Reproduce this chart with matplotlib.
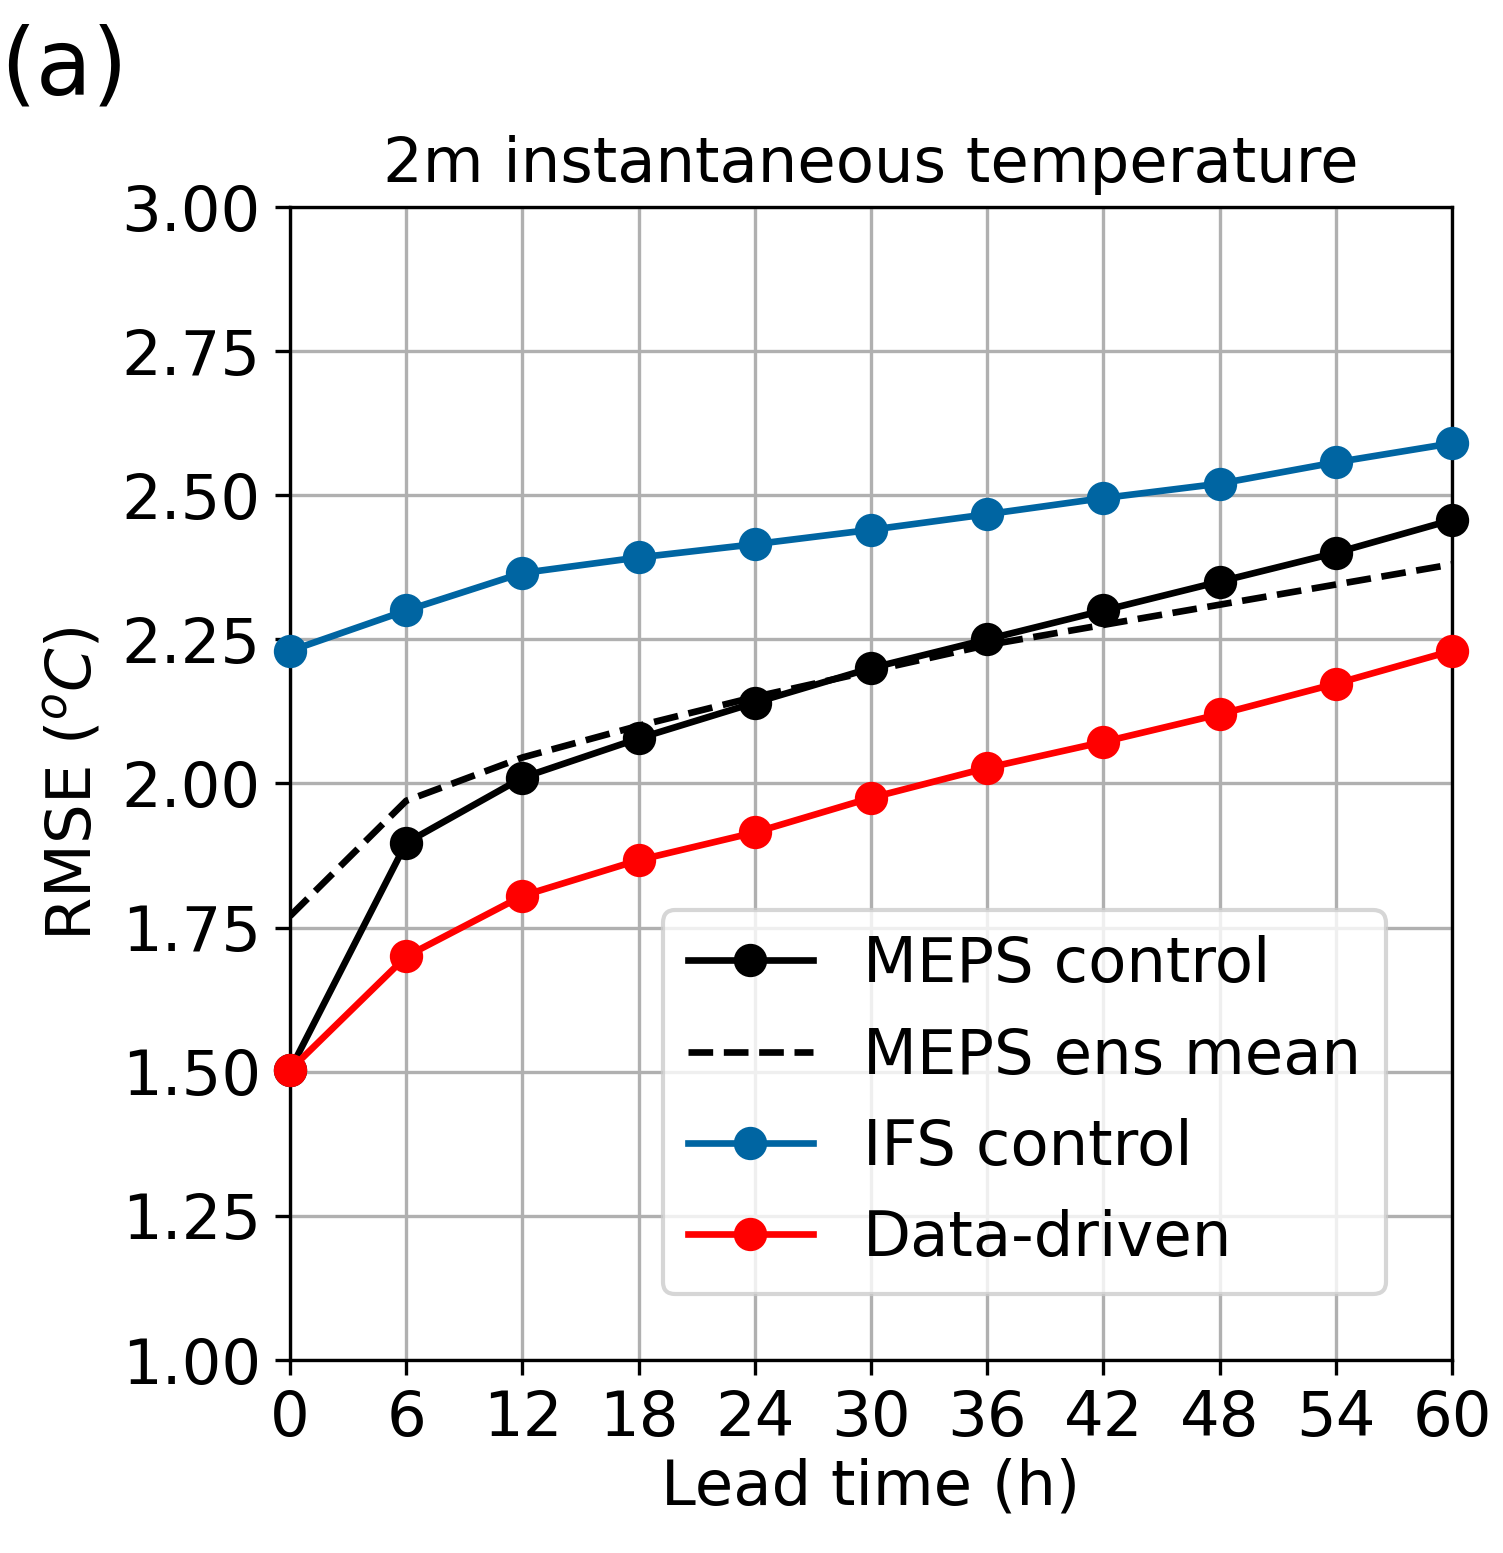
import matplotlib
matplotlib.use("Agg")
import matplotlib.pyplot as plt

lead_time = [0, 6, 12, 18, 24, 30, 36, 42, 48, 54, 60]
meps_control = [1.503, 1.897, 2.01, 2.078, 2.14, 2.20, 2.25, 2.30, 2.35, 2.40, 2.457]
meps_ens_mean = [1.77, 1.97, 2.045, 2.10, 2.15, 2.195, 2.24, 2.275, 2.31, 2.345, 2.38]
ifs_control = [2.23, 2.30, 2.365, 2.392, 2.415, 2.44, 2.467, 2.495, 2.52, 2.557, 2.59]
data_driven = [1.503, 1.70, 1.805, 1.867, 1.915, 1.975, 2.027, 2.072, 2.12, 2.173, 2.23]

plt.rcParams["font.size"] = 15

fig = plt.figure(figsize=(5.01, 5.177), dpi=300)
ax = fig.add_axes([0.193, 0.1243, 0.773, 0.7424])

style = dict(lw=1.6, ms=7, clip_on=False, zorder=3)
ax.plot(lead_time, meps_control, "-o", color="black", label="MEPS control", **style)
ax.plot(lead_time, meps_ens_mean, "--", color="black", lw=1.6, label="MEPS ens mean", zorder=3)
ax.plot(lead_time, ifs_control, "-o", color="#0065a2", label="IFS control", **style)
ax.plot(lead_time, data_driven, "-o", color="red", label="Data-driven", **style)

ax.set_xlim(0, 60)
ax.set_ylim(1.0, 3.0)
ax.set_xticks(lead_time)
ax.set_yticks([1.0, 1.25, 1.5, 1.75, 2.0, 2.25, 2.5, 2.75, 3.0])
ax.yaxis.set_major_formatter(matplotlib.ticker.FormatStrFormatter("%.2f"))
ax.grid(True, color="#b0b0b0", lw=0.8)
ax.set_axisbelow(True)
ax.set_xlabel("Lead time (h)", labelpad=2)
ax.set_ylabel(r"RMSE ($^oC$)")
ax.set_title("2m instantaneous temperature", fontsize=15)
ax.legend(loc="lower right", bbox_to_anchor=(0.97, 0.03), fontsize=15)
fig.text(0.0, 0.985, "(a)", fontsize=22, va="top", ha="left")

fig.savefig("out.png", dpi=300)
